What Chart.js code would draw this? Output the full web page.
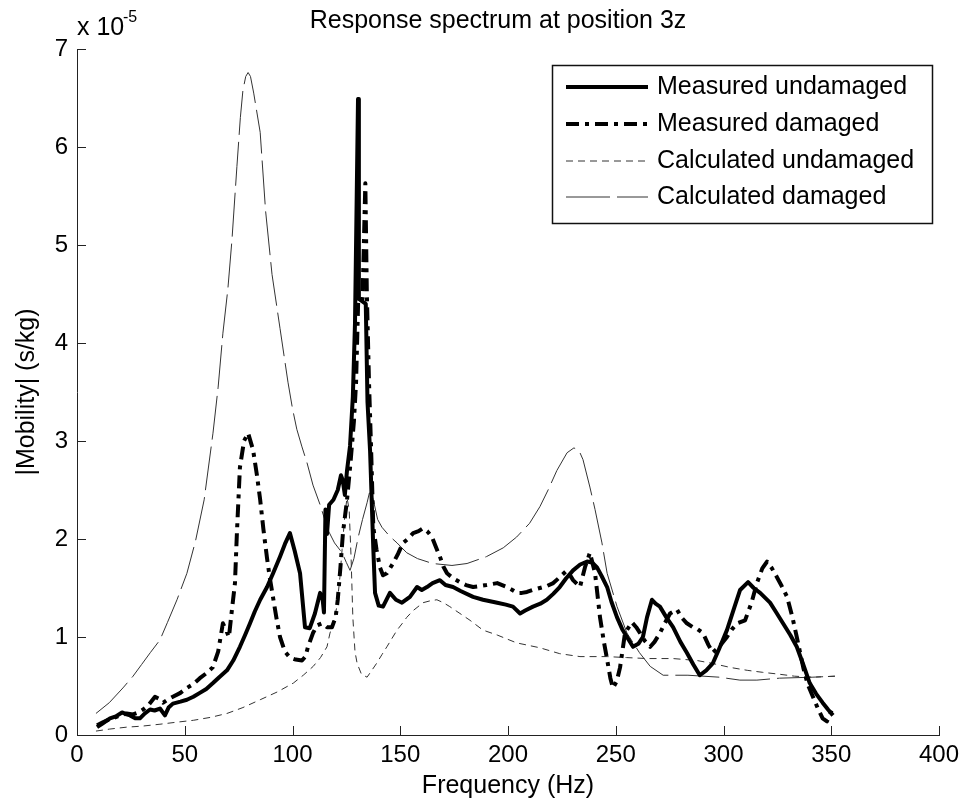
<!DOCTYPE html>
<html><head><meta charset="utf-8">
<script src="https://cdn.jsdelivr.net/npm/chart.js@4.4.1/dist/chart.umd.min.js"></script>
<style>html,body{margin:0;padding:0;background:#fff}#wrap{width:968px;height:807px}</style>
</head><body><div id="wrap"><canvas id="c" width="968" height="807"></canvas></div>
<script>
const chartTitle = 'Response spectrum at position 3z';
const xTitle = 'Frequency (Hz)';
const yTitle = '|Mobility| (s/kg)';
const seriesNames = ['Measured undamaged', 'Measured damaged', 'Calculated undamaged', 'Calculated damaged'];
const xTicks = [0, 50, 100, 150, 200, 250, 300, 350, 400];
const yTicks = [0, 1, 2, 3, 4, 5, 6, 7];

// Measured undamaged (x 1e-5 s/kg)
const muFreq = [9.3,12,15.3,18,20.9,23,24.6,27,29.2,31.5,33.9,36,38.5,40.8,42.5,44.5,48,51,54,57,60,63.1,66,69.6,72.5,75.6,78,80.3,82.5,85,88.2,91,94.2,96.5,98.8,101,103.5,105.8,108,110.4,112.8,114,114.6,115.3,116,117,119,121,122.5,123.3,124.3,125.3,126.7,128,129,129.8,130.4,130.8,134,134.8,136,137.5,138.3,140,142,145.2,148,150.8,154.5,157.8,160,162.4,165,168.4,171,174.5,178,183.8,188.4,195,199,202.3,205.6,208,211.6,215,218,221,224,227,230.2,233.5,236.7,239,241.3,243.5,246,248,250.6,253,255.2,258,260.5,262.6,264.5,266.8,268.5,270.5,273.5,276.6,280,283,286,289,292,295,298,301.6,305,307.7,311.4,314,317,321.6,324.5,327.6,331,334,337,340,343,346,348.5,350.8];
const muVal  = [0.08,0.12,0.17,0.19,0.23,0.21,0.2,0.17,0.17,0.22,0.26,0.25,0.27,0.2,0.28,0.32,0.34,0.36,0.39,0.43,0.47,0.53,0.59,0.66,0.76,0.9,1.02,1.14,1.26,1.38,1.51,1.65,1.82,1.95,2.06,1.88,1.65,1.1,1.09,1.24,1.45,1.38,1.25,2.3,2.05,2.35,2.4,2.5,2.65,2.6,2.45,2.7,2.95,3.45,4.2,5.5,6.49,4.45,4.4,3.4,2.9,1.9,1.45,1.32,1.31,1.45,1.38,1.35,1.41,1.51,1.48,1.51,1.55,1.58,1.53,1.51,1.47,1.41,1.38,1.35,1.33,1.31,1.24,1.27,1.31,1.34,1.38,1.44,1.51,1.6,1.68,1.74,1.77,1.76,1.71,1.62,1.51,1.36,1.2,1.08,1.0,0.9,0.93,1.0,1.2,1.38,1.34,1.31,1.2,1.1,0.95,0.84,0.72,0.61,0.66,0.73,0.88,1.07,1.3,1.48,1.56,1.5,1.45,1.35,1.25,1.14,1.02,0.9,0.72,0.53,0.42,0.33,0.26,0.2];

// Measured damaged
const mdFreq = [9.3,12,14,16.7,20,23,26,28.5,30.7,33,36.2,38,40,42,44.5,48,51,54,57,60,63,65.5,67.7,69,70.5,71.5,73.3,74.2,75.6,77.5,79.4,81.7,83.5,85,86.5,88.2,89.5,91,92.5,94.2,96.5,98.8,101.5,104.4,106,107.2,109.5,111.5,113.7,116,118.3,120,121,122.2,123.4,125.3,127,128.5,129.5,130.5,132.5,133.8,134.5,135.5,136.5,137.5,139,140.6,142,143.8,146.6,149,151.3,153.5,156,158.5,160.6,162.5,164.7,166.5,168.4,170,171.7,174.5,177.7,180.5,183.8,187,190,195,199.5,202,204.2,206.5,208.8,211.5,214.8,218,221,224.5,227.4,230.2,233.4,235.7,238,240.4,242.7,244.5,246,247.5,248.7,250.5,252,254.3,257.5,259.5,261.3,263.5,266,268,270.5,273,275.2,278.4,280.5,283,285.8,288,290.5,293,295,298,301.6,304,306.3,310,313,315.5,318,320.2,322.5,324.8,327,329.5,332,334,337,339,341.5,344,346,348,350.3];
const mdVal  = [0.1,0.13,0.15,0.17,0.2,0.22,0.21,0.23,0.26,0.3,0.39,0.37,0.33,0.36,0.39,0.43,0.48,0.52,0.58,0.63,0.69,0.85,1.14,1.08,1.0,1.2,1.55,2.06,2.73,3.0,3.08,2.91,2.65,2.4,2.1,1.8,1.6,1.4,1.2,1.0,0.85,0.79,0.77,0.76,0.8,0.9,1.04,1.12,1.14,1.1,1.1,1.2,1.38,1.7,2.06,2.4,2.8,3.2,3.6,4.45,4.45,5.63,4.5,3.6,2.9,2.12,1.89,1.71,1.63,1.65,1.75,1.85,1.96,2.0,2.06,2.08,2.11,2.08,2.02,1.92,1.82,1.72,1.65,1.6,1.56,1.53,1.51,1.52,1.53,1.55,1.51,1.48,1.45,1.45,1.46,1.48,1.5,1.52,1.55,1.62,1.68,1.58,1.51,1.71,1.86,1.65,1.2,0.95,0.77,0.58,0.48,0.55,0.69,1.04,1.15,1.1,1.04,0.96,0.9,0.95,1.04,1.15,1.24,1.28,1.2,1.14,1.1,1.08,1.04,0.92,0.84,0.9,1.0,1.08,1.14,1.17,1.35,1.55,1.7,1.77,1.7,1.61,1.52,1.41,1.2,1.0,0.69,0.52,0.39,0.26,0.17,0.14,0.26];

// Calculated undamaged
const cuFreq = [8.8,15,23,30,38.5,46,54,62,69.6,77,85,93,100.4,105,109.6,113,116,117.4,119,120.6,122,123,124.3,125.3,126.3,127.2,128,129,130,132,134.6,136.5,139,141.5,143.8,146,148.5,151,153,156,160.6,164,167,170,173,177.7,182.4,188.4,195,204,214.8,224,233.4,246,255,264.5,276.6,287.7,295,303,311,318,326,333,341.5,351.7];
const cuVal  = [0.04,0.06,0.08,0.09,0.11,0.13,0.15,0.18,0.22,0.28,0.36,0.44,0.53,0.61,0.7,0.79,0.9,1.04,1.15,1.31,1.61,1.89,2.25,2.42,2.3,1.8,1.2,0.85,0.73,0.62,0.59,0.65,0.73,0.82,0.9,0.98,1.07,1.14,1.2,1.27,1.35,1.37,1.38,1.35,1.31,1.24,1.17,1.07,1.02,0.94,0.89,0.83,0.8,0.8,0.79,0.78,0.78,0.76,0.73,0.69,0.66,0.64,0.62,0.6,0.59,0.6];

// Calculated damaged
const cdFreq = [8.8,15,21.3,26,30,34,38.5,42,46.4,51,55,59,63.1,65.5,67.7,70,71.9,74.2,75.8,77,78.3,79.4,80.5,82,85,87.5,90.5,94.2,97.9,100,102,104.4,106.7,109.5,112.8,116.5,119.5,123,125,126.7,128.5,130.4,132.5,134.6,136,137.5,139.5,141.5,145,148.5,153,158,165,174,181,190,197.8,204,210,214.8,218.6,222.7,227.4,230.6,233,234.8,238,240.4,243.6,246,250.6,255.2,261,266,272,283.5,298,307.6,315.5,326,341.5,351.7];
const cdVal  = [0.22,0.33,0.48,0.6,0.72,0.84,0.97,1.15,1.38,1.65,1.98,2.4,3.08,3.55,4.1,4.55,5.05,5.8,6.3,6.58,6.72,6.76,6.72,6.55,6.15,5.35,4.7,4.15,3.6,3.33,3.12,2.94,2.78,2.55,2.35,2.09,1.96,1.86,1.76,1.68,1.8,2.01,2.2,2.37,2.5,2.4,2.2,2.12,2.03,1.96,1.86,1.8,1.75,1.73,1.75,1.82,1.91,2.02,2.16,2.33,2.5,2.7,2.88,2.93,2.9,2.81,2.53,2.3,1.96,1.65,1.31,1.04,0.84,0.7,0.61,0.61,0.59,0.56,0.56,0.58,0.59,0.6];

const toPts = (xs, ys) => xs.map((x, i) => ({x, y: ys[i]}));
const FONT = '"Liberation Sans", Arial, Helvetica, sans-serif';

const overlay = {
  id: 'overlay',
  afterDraw(chart) {
    const ctx = chart.ctx, xs = chart.scales.x, ys = chart.scales.y, a = chart.chartArea;
    ctx.save();
    // inward tick marks
    ctx.strokeStyle = '#222'; ctx.lineWidth = 1; ctx.setLineDash([]);
    xs.ticks.forEach(t => {
      const px = Math.round(xs.getPixelForValue(t.value)) + 0.5;
      ctx.beginPath(); ctx.moveTo(px, a.bottom); ctx.lineTo(px, a.bottom - 9); ctx.stroke();
    });
    ys.ticks.forEach(t => {
      const py = Math.round(ys.getPixelForValue(t.value)) + 0.5;
      ctx.beginPath(); ctx.moveTo(a.left, py); ctx.lineTo(a.left + 9, py); ctx.stroke();
    });
    // title
    ctx.fillStyle = '#000';
    ctx.font = '25px ' + FONT; ctx.textAlign = 'center'; ctx.textBaseline = 'alphabetic';
    ctx.fillText(chartTitle, 498, 28);
    // exponent label
    ctx.textAlign = 'left';
    ctx.fillText('x 10', 77, 35);
    ctx.font = '16px ' + FONT;
    ctx.fillText('-5', 123, 22);
    // legend
    const lx0 = 552, ly0 = 65, lx1 = 932, ly1 = 223;
    ctx.fillStyle = '#fff'; ctx.fillRect(lx0, ly0, lx1 - lx0, ly1 - ly0);
    ctx.strokeStyle = '#111'; ctx.lineWidth = 1.5;
    ctx.strokeRect(lx0 + 0.5, ly0 + 0.5, lx1 - lx0, ly1 - ly0);
    const rows = [87, 124, 161, 197];
    chart.data.datasets.forEach((ds, i) => {
      const y = rows[i];
      ctx.strokeStyle = ds.borderColor; ctx.lineWidth = ds.borderWidth;
      ctx.setLineDash(ds.borderDash || []);
      ctx.beginPath(); ctx.moveTo(566, y); ctx.lineTo(648, y); ctx.stroke();
      ctx.setLineDash([]);
      ctx.fillStyle = '#000'; ctx.font = '25px ' + FONT; ctx.textBaseline = 'middle';
      ctx.fillText(ds.label, 657, y);
    });
    ctx.restore();
  }
};

new Chart(document.getElementById('c'), {
  type: 'scatter',
  data: {
    datasets: [
      {label: seriesNames[0], data: toPts(muFreq, muVal), borderColor: '#000', borderWidth: 4, borderDash: []},
      {label: seriesNames[1], data: toPts(mdFreq, mdVal), borderColor: '#000', borderWidth: 4, borderDash: [13, 6, 4, 6]},
      {label: seriesNames[2], data: toPts(cuFreq, cuVal), borderColor: '#333', borderWidth: 1, borderDash: [7, 5]},
      {label: seriesNames[3], data: toPts(cdFreq, cdVal), borderColor: '#333', borderWidth: 1, borderDash: [44, 7]}
    ].map(d => Object.assign(d, {showLine: true, pointRadius: 0, tension: 0, fill: false, borderJoinStyle: 'round', borderCapStyle: 'butt'}))
  },
  options: {
    responsive: false, animation: false, devicePixelRatio: 1,
    layout: {padding: {top: 49, right: 29, bottom: 0, left: 0}},
    plugins: {legend: {display: false}, tooltip: {enabled: false}, title: {display: false}},
    scales: {
      x: {
        type: 'linear', min: 0, max: 400,
        afterBuildTicks: s => { s.ticks = xTicks.map(v => ({value: v})); },
        afterFit: s => { s.height = 72; },
        ticks: {color: '#000', font: {size: 24, family: FONT}, padding: 6, maxRotation: 0},
        grid: {display: true, drawOnChartArea: false, drawTicks: false},
        border: {display: true, color: '#222', width: 1},
        title: {display: true, text: xTitle, color: '#000', font: {size: 25, family: FONT}, padding: {top: 0, bottom: 6}}
      },
      y: {
        type: 'linear', min: 0, max: 7,
        afterBuildTicks: s => { s.ticks = yTicks.map(v => ({value: v})); },
        afterFit: s => { s.width = 77; },
        ticks: {color: '#000', font: {size: 24, family: FONT}, padding: 9},
        grid: {display: true, drawOnChartArea: false, drawTicks: false},
        border: {display: true, color: '#222', width: 1},
        title: {display: true, text: yTitle, color: '#000', font: {size: 25, family: FONT}, padding: {top: 12, bottom: 0}}
      }
    }
  },
  plugins: [overlay]
});
</script></body></html>
